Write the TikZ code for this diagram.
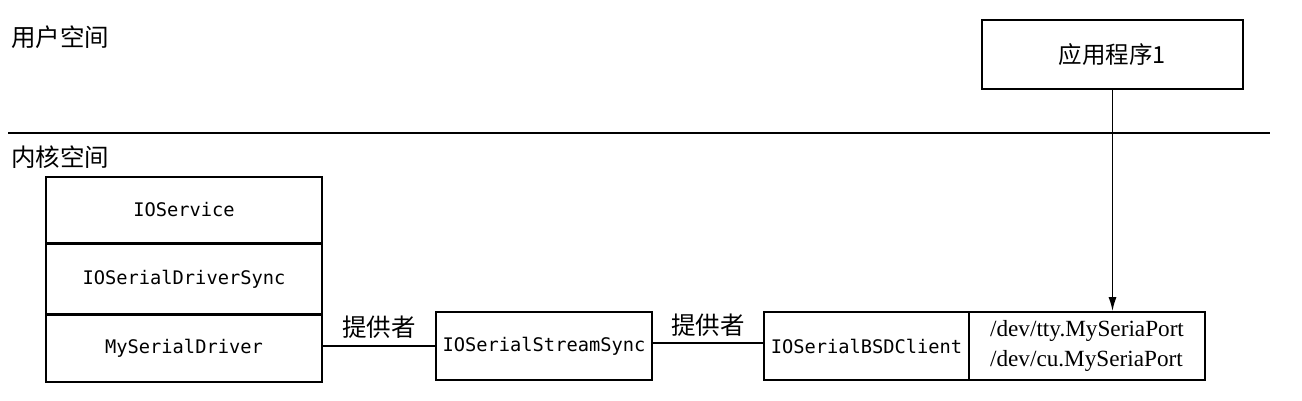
\documentclass[tikz,border=0pt]{standalone}
\usepackage{fontspec}
\setmainfont{Liberation Serif}
\setmonofont{DejaVu Sans Mono}
\newfontfamily\cjk{Noto Sans CJK SC}
\usetikzlibrary{arrows.meta}
\begin{document}
\begin{tikzpicture}[x=1pt,y=-1pt,
  box/.style={draw,line width=1.6pt,inner sep=0pt,minimum height=#1},
  box/.default=68pt,
  mono/.style={font=\fontsize{18.7}{20}\selectfont\ttfamily},
  cjktext/.style={font=\fontsize{24.5}{26}\selectfont\cjk},
  devtext/.style={font=\fontsize{23.2}{30}\selectfont\rmfamily,align=left},
  conn/.style={line width=1.6pt},
  lbl/.style={cjktext,inner sep=0pt}]
\useasboundingbox (0,0) rectangle (1302,400);
% region labels
\node[cjktext,anchor=west,inner sep=0pt] (user) at (11,37) {用户空间};
\node[cjktext,anchor=west,inner sep=0pt] (kern) at (11,157) {内核空间};
\coordinate (sepL) at (8,133);
\coordinate (sepR) at (1270,133);
\draw[line width=2.8pt] (sepL) -- (sepR);
% application
\node[box=69pt,minimum width=261pt,cjktext,font=\fontsize{23.5}{26}\selectfont\cjk] (app) at (1112.5,54.5) {应用程序1};
% left stack
\node[box=66pt,minimum width=276pt,mono] (ios) at (184,210) {IOService};
\node[box=69pt,minimum width=276pt,mono,anchor=north] (ids) at (ios.south) {IOSerialDriverSync};
\node[box=67pt,minimum width=276pt,mono,anchor=north] (msd) at (ids.south) {MySerialDriver};
% stream sync
\node[box=68pt,minimum width=216pt,mono] (sss) at (544,346) {IOSerialStreamSync};
% BSD client
\node[box=68pt,minimum width=205pt,mono] (bsd) at (866.5,346) {IOSerialBSDClient};
\node[box=68pt,minimum width=236pt,devtext,anchor=west,xshift=-1.6pt] (dev) at (bsd.east) {/dev/tty.MySeriaPort\\/dev/cu.MySeriaPort};
% connectors
\draw[conn] ([yshift=3pt]msd.east) -- ([yshift=3pt]msd.east -| sss.west)
  node[lbl,midway,above=6pt] (p1) {提供者};
\draw[conn] ([yshift=3pt]sss.east) -- ([yshift=3pt]sss.east -| bsd.west)
  node[lbl,midway,above=6pt] (p2) {提供者};
\draw[conn,-{Latex[length=14pt,width=8pt]}] (app.south) -- (app.south |- dev.north);
\end{tikzpicture}
\end{document}
